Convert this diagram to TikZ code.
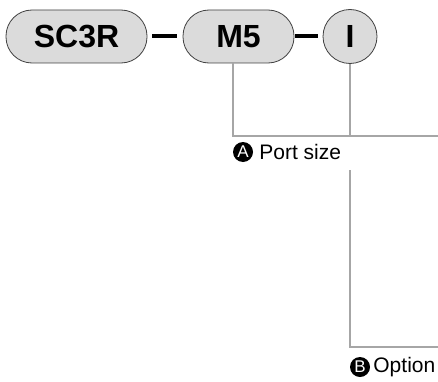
\documentclass[tikz,border=0pt]{standalone}
\usepackage{fontspec}
\setmainfont{Liberation Sans}
\usetikzlibrary{positioning,calc}
\tikzset{
  part/.style={
    draw=black!75, line width=0.8pt,
    fill=black!14,
    rounded corners=26pt,
    minimum height=53pt,
    inner sep=0pt,
    font=\fontsize{32}{32}\selectfont\bfseries},
  roundpart/.style={
    circle, draw=black!75, line width=0.8pt,
    fill=black!14,
    minimum size=54pt,
    inner sep=0pt,
    font=\fontsize{32}{32}\selectfont\bfseries},
  joint/.style={line width=4pt},
  lead/.style={draw=black!35, line width=2pt},
  badge/.style={circle, fill=black, text=white, inner sep=0pt,
    minimum size=20pt, font=\fontsize{17}{17}\selectfont},
  legend/.style={font=\fontsize{21}{21}\selectfont, inner sep=0pt},
}

\begin{document}
\begin{tikzpicture}[x=1pt, y=1pt]
    \useasboundingbox (0,0) rectangle (438,381);

    %code parts
    \node[part, minimum width=141pt] (sc) at (76.5,344.5) {SC3R};
    \node[part, minimum width=111pt] (m5) at (238.5,344.5) {M5};
    \node[roundpart] (opt) at (350,344.5) {I};

    %dashes
    \draw[joint, shorten <=5pt, shorten >=6pt] (sc) -- (m5);
    \draw[joint, shorten <=1pt, shorten >=5pt] (m5) -- (opt);

    %leads
    \coordinate (portend) at (438,245);
    \coordinate (opttop) at (350,211);
    \coordinate (optend) at (438,34);
    \draw[lead] ($(m5.south)+(-5.5,0)$) |- (portend);
    \draw[lead] (opt.south) -- (opt.south |- portend);
    \draw[lead] (opttop) |- (optend);

    %legend
    \node[badge] (a) at (243,229) {A};
    \node[legend, right=6pt of a] (port) {Port size};
    \node[badge] (b) at (360,14) {B};
    \node[legend, right=3pt of b] (option) {Option};

\end{tikzpicture}
\end{document}
